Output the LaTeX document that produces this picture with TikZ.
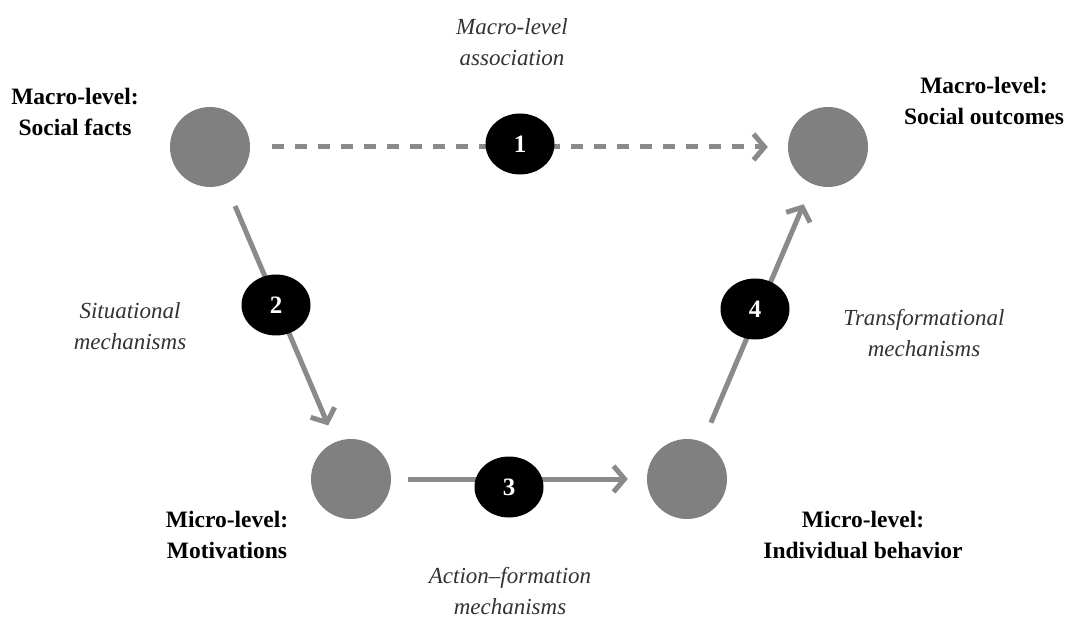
\documentclass[tikz,border=0pt]{standalone}
\usepackage{fontspec}
\setmainfont{Liberation Serif}
\usetikzlibrary{arrows.meta,shapes.geometric}
\definecolor{circgray}{HTML}{808080}
\definecolor{arrgray}{HTML}{8A8A8A}
\definecolor{italgray}{HTML}{333333}
\tikzset{
  lev/.style={circle,fill=circgray,minimum size=80pt,inner sep=0pt},
  num/.style={ellipse,fill=black,minimum width=69pt,minimum height=61pt,inner sep=0pt,text=white,font=\bfseries\fontsize{25}{28}\selectfont},
  conn/.style={draw=arrgray,line width=5pt,-{Straight Barb[length=11pt,width=26pt]}},
  boldlab/.style={align=center,font=\bfseries\fontsize{23.5}{31}\selectfont},
  itallab/.style={align=center,text=italgray,font=\itshape\fontsize{23}{31}\selectfont},
}
\begin{document}
\begin{tikzpicture}[x=1pt,y=-1pt]
\useasboundingbox (0,0) rectangle (1069,620);
\node[lev] (TL) at (210,147) {};
\node[lev] (TR) at (828,147) {};
\node[lev] (BL) at (351,479) {};
\node[lev] (BR) at (687,479) {};
\draw[conn,dash pattern=on 12pt off 11pt,shorten <=22pt,shorten >=20pt] (TL) -- (TR);
\draw[conn,shorten <=24pt,shorten >=18pt] (TL) -- (BL);
\draw[conn,shorten <=17pt,shorten >=19pt] (BL) -- (BR);
\draw[conn,shorten <=21pt,shorten >=22pt] (BR) -- (TR);
\node[num] (n1) at (520,144) {1};
\node[num] (n2) at (276,305) {2};
\node[num] (n3) at (509,487) {3};
\node[num] (n4) at (755,309) {4};
\node[boldlab] (l1) at (75,112) {Macro-level:\\Social facts};
\node[boldlab] (l2) at (984,101) {Macro-level:\\Social outcomes};
\node[boldlab] (l3) at (227,535) {Micro-level:\\Motivations};
\node[boldlab] (l4) at (863,535) {Micro-level:\\Individual behavior};
\node[itallab] (t1) at (512,42) {Macro-level\\association};
\node[itallab] (t2) at (130,326) {Situational\\mechanisms};
\node[itallab] (t3) at (924,333) {Transformational\\mechanisms};
\node[itallab] (t4) at (510,591) {Action–formation\\mechanisms};
\end{tikzpicture}
\end{document}
